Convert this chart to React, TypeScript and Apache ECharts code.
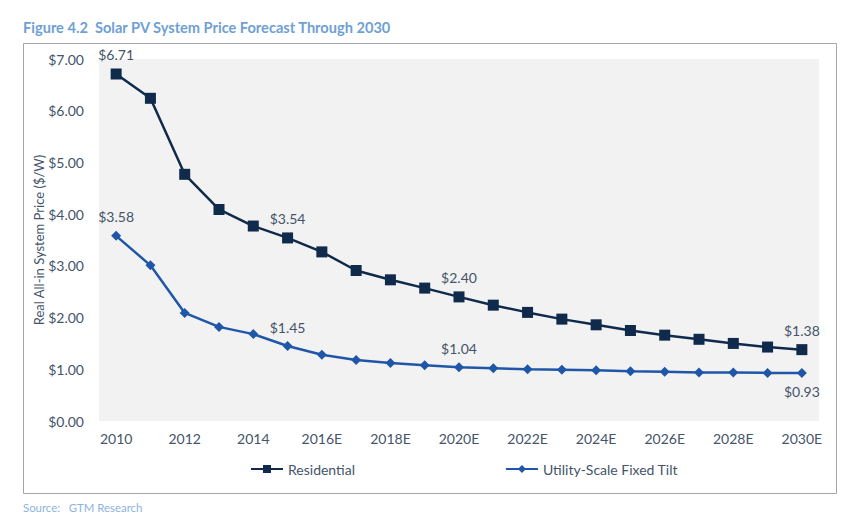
import React, { useEffect, useRef } from "react";
import * as echarts from "echarts";

const years = ["2010","2011","2012","2013","2014","2015","2016E","2017E","2018E","2019E","2020E","2021E","2022E","2023E","2024E","2025E","2026E","2027E","2028E","2029E","2030E"];
const residential = [6.71,6.24,4.77,4.09,3.77,3.54,3.27,2.91,2.73,2.57,2.40,2.24,2.10,1.97,1.86,1.75,1.66,1.58,1.50,1.43,1.38];
const utility = [3.58,3.01,2.09,1.82,1.68,1.45,1.28,1.18,1.12,1.08,1.04,1.02,1.00,0.99,0.98,0.96,0.95,0.94,0.94,0.93,0.93];
const residentialLabelled = [0, 5, 10, 20];
const utilityLabelledTop = [0, 5, 10];
const utilityLabelledBottom = [20];
const yTicks = [0, 1, 2, 3, 4, 5, 6, 7];

const FONT = "Lato, 'Open Sans', sans-serif";
const TEXT = "#44546a";

export default function App() {
  const ref = useRef<HTMLDivElement>(null);
  useEffect(() => {
    const chart = echarts.init(ref.current!, null, { renderer: "svg" });
    const lbl = (pos: string) => ({
      show: true,
      position: pos,
      distance: 7,
      color: TEXT,
      fontFamily: FONT,
      fontSize: 14,
      formatter: (p: any) => "$" + Number(p.value).toFixed(2),
    });
    const resData = residential.map((v, i) =>
      residentialLabelled.includes(i) ? { value: v, label: lbl("top") } : v
    );
    const utilData = utility.map((v, i) =>
      utilityLabelledTop.includes(i)
        ? { value: v, label: lbl("top") }
        : utilityLabelledBottom.includes(i)
        ? { value: v, label: lbl("bottom") }
        : v
    );
    chart.setOption({
      animation: false,
      backgroundColor: "#ffffff",
      textStyle: { fontFamily: FONT },
      graphic: [
        {
          type: "rect",
          shape: { x: 23.5, y: 43.5, width: 813, height: 450 },
          style: { fill: "none", stroke: "#a6a6a6", lineWidth: 1 },
          z: -1,
        },
        {
          type: "text",
          left: 23,
          top: 20,
          style: {
            text: "Figure 4.2  Solar PV System Price Forecast Through 2030",
            fill: "#6fa0d4",
            font: "bold 14.6px " + FONT,
          },
        },
        {
          type: "text",
          left: 23,
          top: 502,
          style: {
            text: "Source:   GTM Research",
            fill: "#8db3e2",
            font: "11.4px " + FONT,
          },
        },
      ],
      grid: {
        left: 99,
        right: 44,
        top: 59,
        bottom: 110,
        show: true,
        backgroundColor: "#f2f2f2",
        borderWidth: 0,
      },
      legend: {
        bottom: 50,
        left: 245,
        itemGap: 150,
        itemWidth: 32,
        itemHeight: 10,
        textStyle: { color: TEXT, fontSize: 14, fontFamily: FONT },
        data: ["Residential", "Utility-Scale Fixed Tilt"],
      },
      xAxis: {
        type: "category",
        data: years,
        boundaryGap: true,
        axisLine: { show: false },
        axisTick: { show: false },
        axisLabel: {
          interval: 1,
          color: TEXT,
          fontSize: 14,
          fontFamily: FONT,
          margin: 10,
        },
      },
      yAxis: {
        type: "value",
        min: yTicks[0],
        max: yTicks[yTicks.length - 1],
        interval: 1,
        name: "Real All-in System Price ($/W)",
        nameLocation: "middle",
        nameGap: 54,
        nameMoveOverlap: false,
        nameTextStyle: { color: TEXT, fontSize: 13, fontFamily: FONT },
        axisLine: { show: false },
        axisTick: { show: false },
        splitLine: { show: false },
        axisLabel: {
          color: TEXT,
          fontSize: 14,
          fontFamily: FONT,
          margin: 15,
          formatter: (v: number) => "$" + v.toFixed(2),
        },
      },
      series: [
        {
          name: "Residential",
          type: "line",
          data: resData,
          symbol: "rect",
          symbolSize: 11,
          lineStyle: { color: "#0f2a4a", width: 2.5 },
          itemStyle: { color: "#0f2a4a" },
          color: "#0f2a4a",
        },
        {
          name: "Utility-Scale Fixed Tilt",
          type: "line",
          data: utilData,
          symbol: "diamond",
          symbolSize: 10,
          lineStyle: { color: "#1f56a8", width: 2.5 },
          itemStyle: { color: "#1f56a8" },
          color: "#1f56a8",
        },
      ],
    });
    return () => chart.dispose();
  }, []);
  return (
    <div
      ref={ref}
      style={{ position: "fixed", left: 0, top: 0, width: 863, height: 531 }}
    />
  );
}
